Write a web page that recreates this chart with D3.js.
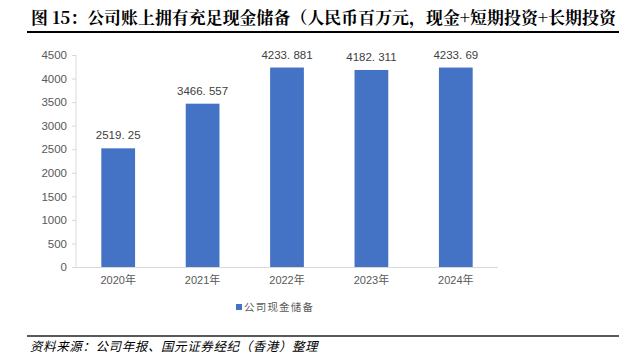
<!DOCTYPE html>
<html><head><meta charset="utf-8">
<script src="https://cdn.jsdelivr.net/npm/d3@7"></script>
<style>
body{margin:0;background:#fff;}
svg{display:block;}
</style></head>
<body>
<svg id="c" width="619" height="359"></svg>
<script>
const categories = ["2020年","2021年","2022年","2023年","2024年"];
const values = [2519.25, 3466.557, 4233.881, 4182.311, 4233.69];
const valueLabels = ["2519. 25","3466. 557","4233. 881","4182. 311","4233. 69"];
const yTicks = [0,500,1000,1500,2000,2500,3000,3500,4000,4500];
const seriesName = "公司现金储备";
const title = "图 15：公司账上拥有充足现金储备（人民币百万元，现金+短期投资+长期投资";
const source = "资料来源：公司年报、国元证券经纪（香港）整理";

const svg = d3.select("#c");
const font = "'Liberation Sans', Arial, 'Noto Sans CJK SC', sans-serif";
const cjk = "'Noto Sans CJK SC', sans-serif";

// title
svg.append("text").attr("x",31).attr("y",24)
  .attr("font-family", "'Noto Serif CJK SC','Noto Sans CJK SC',serif")
  .attr("font-weight","bold").attr("font-size",16.9).attr("letter-spacing",0.05).attr("fill","#000")
  .text(title);
svg.append("line").attr("x1",27).attr("x2",619).attr("y1",32).attr("y2",32)
  .attr("stroke","#000").attr("stroke-width",2);

const x = d3.scaleBand().domain(categories).range([76,498]).paddingInner(0.6).paddingOuter(0.3);
const y = d3.scaleLinear().domain([0,4500]).range([267,55]);

// y axis
const ya = svg.append("g").attr("transform","translate(76,0)")
  .call(d3.axisLeft(y).tickValues(yTicks).tickFormat(d3.format("d")).tickSize(4).tickPadding(5));
ya.selectAll("line").attr("stroke","#D9D9D9");
ya.select(".domain").attr("stroke","#D9D9D9").attr("d","M0,55V267");
ya.selectAll("text").attr("font-family",font).attr("font-size",11.5).attr("fill","#595959");

// x axis
const xa = svg.append("g").attr("transform","translate(0,267)")
  .call(d3.axisBottom(x).tickSize(0).tickPadding(9));
xa.select(".domain").attr("stroke","#D9D9D9").attr("d","M76,0.5H498");
xa.selectAll("text").attr("font-family",font).attr("font-size",11).attr("fill","#595959");

// bars
svg.selectAll("rect.bar").data(values).join("rect").attr("class","bar")
  .attr("x",(d,i)=>x(categories[i])).attr("width",x.bandwidth())
  .attr("y",d=>y(d)).attr("height",d=>y(0)-y(d)).attr("fill","#4472C4");

svg.selectAll("text.val").data(values).join("text").attr("class","val")
  .attr("x",(d,i)=>x(categories[i])+x.bandwidth()/2).attr("y",d=>y(d)-9)
  .attr("text-anchor","middle").attr("font-family",font).attr("font-size",11.5)
  .attr("fill","#404040").text((d,i)=>valueLabels[i]);

// legend
svg.append("rect").attr("x",236).attr("y",304).attr("width",6).attr("height",6).attr("fill","#4472C4");
svg.append("text").attr("x",244).attr("y",311).attr("font-family",cjk).attr("font-size",10.5)
  .attr("fill","#595959").attr("letter-spacing",1.2).text(seriesName);

// source
svg.append("line").attr("x1",27).attr("x2",619).attr("y1",336).attr("y2",336)
  .attr("stroke","#222").attr("stroke-width",1.5);
svg.append("text").attr("x",30).attr("y",351).attr("font-family",cjk)
  .attr("font-size",12.5).attr("font-style","italic").attr("letter-spacing",0.6)
  .attr("fill","#000").text(source);
</script>
</body></html>
